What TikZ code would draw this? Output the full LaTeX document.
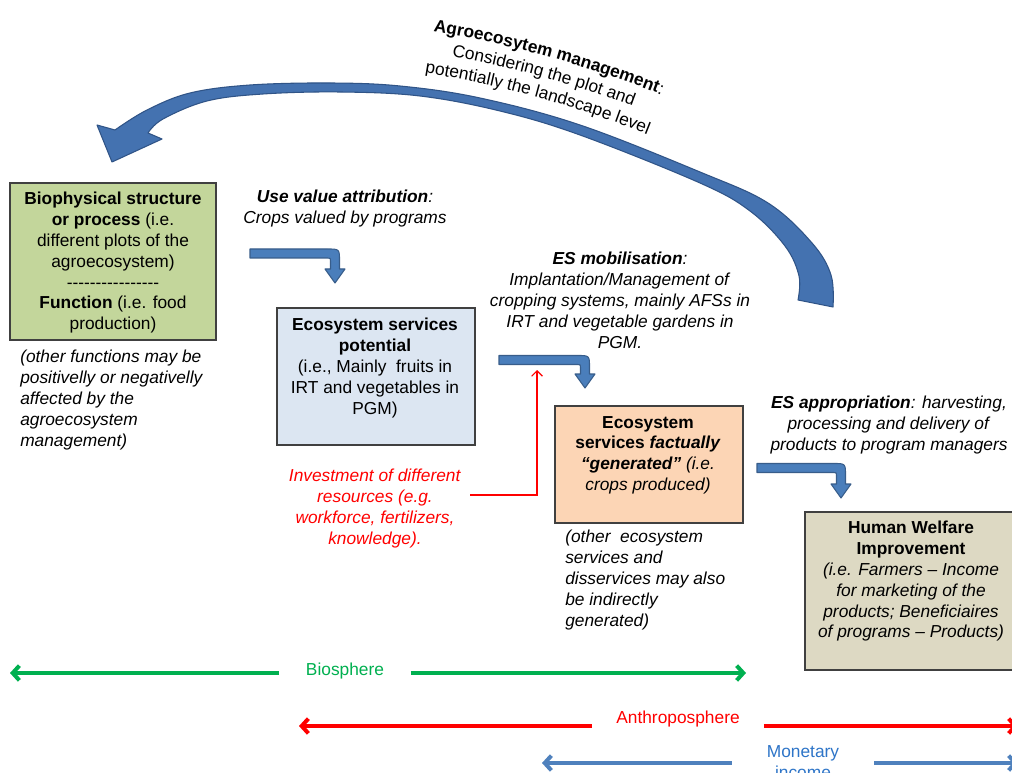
\documentclass[tikz,border=0pt]{standalone}
\usepackage{fontspec}
\setmainfont{Liberation Sans}
\usetikzlibrary{arrows.meta,decorations.text,calc}
\definecolor{boxgreen}{RGB}{195,214,155}
\definecolor{boxblue}{RGB}{220,230,242}
\definecolor{boxorange}{RGB}{252,213,181}
\definecolor{boxtan}{RGB}{221,217,195}
\definecolor{arrfill}{RGB}{74,126,187}
\definecolor{arrline}{RGB}{56,93,138}
\definecolor{bigfill}{RGB}{68,114,176}
\definecolor{bigline}{RGB}{48,84,135}
\definecolor{biogreen}{RGB}{0,176,80}
\definecolor{monblue}{RGB}{79,129,189}
\definecolor{montext}{RGB}{46,117,200}
\definecolor{boxedge}{RGB}{64,64,64}
\newcommand{\bentarrow}[4]{%
  \filldraw[bent] (#1,#2-4.5) -- (#3+4.5-12,#2-4.5) .. controls (#3+4.5,#2-4.5) .. (#3+4.5,#2-4.5+12)
   -- (#3+4.5,#4-14) -- (#3+10,#4-14) -- (#3,#4) -- (#3-10,#4-14) -- (#3-4.5,#4-14)
   -- (#3-4.5,#2+4.5+3) .. controls (#3-4.5,#2+4.5) .. (#3-4.5-3,#2+4.5) -- (#1,#2+4.5) -- cycle;}
\begin{document}
\begin{tikzpicture}[x=0.75pt,y=-0.75pt,
  txt/.style={font=\fontsize{13}{15.6}\selectfont, inner sep=0pt, align=center, text=black},
  txtl/.style={txt, align=left},
  box/.style={draw=boxedge, line width=1.1pt, inner sep=0pt},
  bent/.style={fill=arrfill, draw=arrline, line width=0.8pt, line join=round},
  bigarrow/.style={fill=bigfill, draw=bigline, line width=0.8pt, line join=round},
  sph/.style={line width=3pt},
  >={Straight Barb[length=5pt,width=11pt]},
  curvetext/.style={decorate, decoration={text along path, text align=center, text={#1}}}]

\useasboundingbox (0,0) rectangle (1012,773);
\clip (0,0) rectangle (1012,773);
\fill[white] (0,0) rectangle (1012,773);

% boxes
\node[box, fill=boxgreen, minimum width=154.5pt, minimum height=117.75pt] (bio) at (113,261.5) {};
\node[txt, anchor=north] (biotxt) at (113,192) {\textbf{Biophysical structure}\\\textbf{or process} (i.e.\\different plots of the\\agroecosystem)\\-{}-{}-{}-{}-{}-{}-{}-{}-{}-{}-{}-{}-{}-{}-{}-\\\textbf{Function} (i.e. food\\production)};

\node[box, fill=boxblue, minimum width=148.5pt, minimum height=102.75pt] (pot) at (376,376.5) {};
\node[txt, anchor=north] (pottxt) at (375,318) {\textbf{Ecosystem services}\\\textbf{potential}\\(i.e., Mainly\ \ fruits in\\IRT and vegetables in\\PGM)};

\node[box, fill=boxorange, minimum width=141pt, minimum height=87.75pt] (gen) at (649,464.5) {};
\node[txt, anchor=north] (gentxt) at (648,416) {\textbf{Ecosystem}\\\textbf{services \textit{factually}}\\\textbf{\textit{“generated”}} \textit{(i.e.}\\\textit{crops produced)}};

\node[box, fill=boxtan, minimum width=161.25pt, minimum height=118.5pt] (hw) at (912.5,591) {};
\node[txt, anchor=north] (hwtxt) at (911,521) {\textbf{Human Welfare}\\\textbf{Improvement}\\\textit{(i.e. Farmers – Income}\\\textit{for marketing of the}\\\textit{products; Beneficiaires}\\\textit{of programs – Products)}};

% notes
\node[txtl, anchor=north west] (note1) at (20,350) {\textit{(other functions may be}\\\textit{positivelly or negativelly}\\\textit{affected by the}\\\textit{agroecosystem}\\\textit{management)}};
\node[txtl, anchor=north west] (note2) at (565,530) {\textit{(other\ \ ecosystem}\\\textit{services and}\\\textit{disservices may also}\\\textit{be indirectly}\\\textit{generated)}};

\node[txt, anchor=north] (useval) at (345,190) {\textbf{\textit{Use value attribution}}\textit{:}\\\textit{Crops valued by programs}};
\node[txt, anchor=north] (mobil) at (620,252) {\textbf{\textit{ES mobilisation}}\textit{:}\\\textit{Implantation/Management of}\\\textit{cropping systems, mainly AFSs in}\\\textit{IRT and vegetable gardens in}\\\textit{PGM.}};
\node[txt, anchor=north] (approp) at (889,396) {\textbf{\textit{ES appropriation}}\textit{: harvesting,}\\\textit{processing and delivery of}\\\textit{products to program managers}};
\node[txt, anchor=north, text=red] (invest) at (375,469) {\textit{Investment of different}\\\textit{resources (e.g.}\\\textit{workforce, fertilizers,}\\\textit{knowledge).}};

% bent arrows
\bentarrow{250}{253.5}{335}{283}
\bentarrow{499}{360}{585}{388}
\bentarrow{757}{468}{841}{498}

% red connector
\coordinate (rs) at (470,495);
\coordinate (re) at (537,370);
\draw[red, line width=0.9pt, -{Straight Barb[length=4pt,width=8pt]}] (rs) -| (re);

% big curved arrow
\filldraw[bigarrow] plot[smooth, tension=0.6] coordinates {(833,307) (831,275) (812,243) (768,203) (700,172) (580,125) (480,98) (400,86) (330,83) (250,85) (190,93) (147,110) (115,130)}
  -- (97,125) -- (112,162) -- (162,139)
  -- plot[smooth, tension=0.6] coordinates {(148,133) (163,119) (207,101) (263,94) (340,92) (420,96) (500,111) (580,135) (700,183) (750,211) (785,246) (799,276) (798,300)}
  -- cycle;

% curved label
\coordinate (ac) at (255.1,1117);
\path[curvetext={|\fontsize{13}{15.6}\selectfont\bfseries|Agroecosytem management|\fontsize{13}{15.6}\selectfont\mdseries|:}]
  ($(ac)+(-82.31:1100)$) .. controls ($(ac)+(-82.31:1100)+(7.69:100.1)$) and ($(ac)+(-66.69:1100)+(203.31:100.1)$) .. ($(ac)+(-66.69:1100)$);
\path[curvetext={|\fontsize{13}{15.6}\selectfont|Considering the plot and}]
  ($(ac)+(-82.31:1079)$) .. controls ($(ac)+(-82.31:1079)+(7.69:98.2)$) and ($(ac)+(-66.69:1079)+(203.31:98.2)$) .. ($(ac)+(-66.69:1079)$);
\path[curvetext={|\fontsize{13}{15.6}\selectfont|potentially the landscape level}]
  ($(ac)+(-82.31:1058)$) .. controls ($(ac)+(-82.31:1058)+(7.69:96.3)$) and ($(ac)+(-66.69:1058)+(203.31:96.3)$) .. ($(ac)+(-66.69:1058)$);

% sphere arrows
\node[txt, text=biogreen, inner xsep=20pt] (biosph) at (345,671) {Biosphere};
\coordinate (gL) at (10,673);
\coordinate (gR) at (746,673);
\draw[sph, biogreen, ->] (gL -| biosph.west) -- (gL);
\draw[sph, biogreen, ->] (gR -| biosph.east) -- (gR);

\node[txt, text=red, inner xsep=18pt] (anth) at (678,719) {Anthroposphere};
\coordinate (aL) at (299,726);
\coordinate (aR) at (1018,726);
\draw[sph, red, ->] (aL -| anth.west) -- (aL);
\draw[sph, red, ->] (aR -| anth.east) -- (aR);

\node[txt, text=montext, inner xsep=26pt, anchor=north] (mon) at (803,745) {Monetary\\income};
\coordinate (mL) at (542,763);
\coordinate (mR) at (1018,763);
\draw[sph, monblue, ->] (mL -| mon.west) -- (mL);
\draw[sph, monblue, ->] (mR -| mon.east) -- (mR);
\end{tikzpicture}
\end{document}
